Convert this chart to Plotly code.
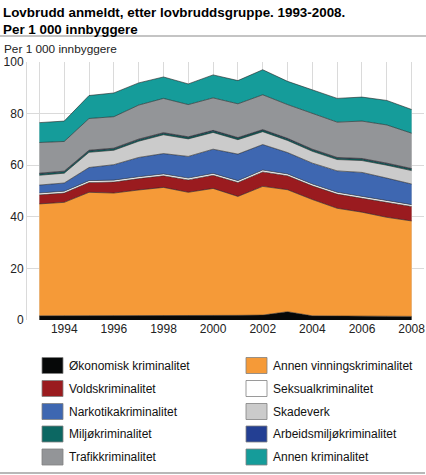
import plotly.graph_objects as go

years = list(range(1993, 2009))

okonomisk = [1.6, 1.6, 1.7, 1.6, 1.6, 1.6, 1.6, 1.8, 1.8, 1.9, 3.2, 1.6, 1.6, 1.4, 1.4, 1.4]
annen_vinning = [43.4, 44.0, 47.8, 47.6, 48.8, 49.8, 47.9, 49.2, 46.1, 49.9, 47.3, 45.1, 41.7, 40.4, 38.4, 37.0]
vold = [3.5, 3.6, 3.8, 4.3, 4.4, 4.5, 4.8, 5.1, 5.4, 5.6, 5.4, 5.3, 5.5, 5.4, 5.8, 5.6]
seksual = [0.7, 0.7, 0.7, 0.7, 0.7, 0.7, 0.7, 0.7, 0.7, 0.7, 0.7, 0.7, 0.7, 0.7, 0.7, 0.7]
narkotika = [3.1, 3.2, 5.1, 6.0, 7.5, 7.9, 8.4, 9.4, 10.3, 9.9, 8.3, 8.1, 8.3, 9.3, 8.7, 8.0]
skadeverk = [3.8, 3.8, 5.9, 5.6, 6.3, 7.3, 6.8, 6.5, 5.6, 5.0, 4.7, 4.6, 4.4, 4.6, 5.0, 5.2]
miljo = [0.6, 0.6, 0.6, 0.6, 0.6, 0.6, 0.6, 0.6, 0.6, 0.6, 0.6, 0.6, 0.6, 0.6, 0.6, 0.6]
arbeidsmiljo = [0.2, 0.2, 0.2, 0.2, 0.2, 0.2, 0.2, 0.2, 0.2, 0.2, 0.2, 0.2, 0.2, 0.2, 0.2, 0.2]
trafikk = [11.9, 11.5, 12.3, 12.2, 13.2, 13.3, 12.5, 12.6, 13.1, 13.5, 13.1, 13.9, 13.7, 14.5, 14.8, 13.7]
annen = [7.7, 7.9, 8.9, 9.2, 8.6, 8.3, 8.0, 8.9, 9.0, 9.7, 9.0, 9.0, 9.2, 9.3, 9.5, 9.2]

series = [
    ("Økonomisk kriminalitet", okonomisk, "#060808"),
    ("Annen vinningskriminalitet", annen_vinning, "#f59a38"),
    ("Voldskriminalitet", vold, "#9a1b1f"),
    ("Seksualkriminalitet", seksual, "#ffffff"),
    ("Narkotikakriminalitet", narkotika, "#3e67b1"),
    ("Skadeverk", skadeverk, "#cbcbcb"),
    ("Miljøkriminalitet", miljo, "#0c6762"),
    ("Arbeidsmiljøkriminalitet", arbeidsmiljo, "#233f93"),
    ("Trafikkriminalitet", trafikk, "#939598"),
    ("Annen kriminalitet", annen, "#159c9a"),
]

x_tick_vals = years
x_tick_text = [str(y) if y % 2 == 0 else "" for y in years]
y_tick_vals = [0, 20, 40, 60, 80, 100]

FONT = "Liberation Sans, Arial, sans-serif"

fig = go.Figure()
for name, vals, col in series:
    fig.add_trace(go.Scatter(
        x=years, y=vals, name=name, mode="lines",
        stackgroup="one", line=dict(color="#222222", width=0.6),
        fillcolor=col, showlegend=False, hoverinfo="skip",
    ))

W, H = 426, 475
L, R, T, B = 27, 2, 62, 155
PW = W - L - R
PH = H - T - B


def px(xp):
    return (xp - L) / PW


def py(yp):
    return (H - B - yp) / PH


shapes = []
annotations = []

# title separator & bottom line
shapes.append(dict(type="line", xref="paper", yref="paper", x0=px(0), x1=px(426), y0=py(36), y1=py(36),
                   line=dict(color="#b0b0b0", width=1.5)))
shapes.append(dict(type="line", xref="paper", yref="paper", x0=px(0), x1=px(425), y0=py(473), y1=py(473),
                   line=dict(color="#a0a0a0", width=1.5)))

annotations.append(dict(text="<b>Lovbrudd anmeldt, etter lovbruddsgruppe. 1993-2008.</b><br><b>Per 1 000 innbyggere</b>",
                        xref="paper", yref="paper", x=px(1), y=py(3), xanchor="left", yanchor="top",
                        align="left", showarrow=False, font=dict(family=FONT, size=13.4, color="#000000")))
annotations.append(dict(text="Per 1 000 innbyggere", xref="paper", yref="paper", x=px(2), y=py(49),
                        xanchor="left", yanchor="middle", showarrow=False,
                        font=dict(family=FONT, size=11.8, color="#222222")))

# legend (two columns, row-major)
row_y = [365.5, 388.5, 411.5, 434, 457]
col_x = [42, 246]
for i, (name, vals, col) in enumerate(series):
    r, c = divmod(i, 2)
    x0 = col_x[c]
    yc = row_y[r]
    shapes.append(dict(type="rect", xref="paper", yref="paper",
                       x0=px(x0), x1=px(x0 + 21), y0=py(yc - 8), y1=py(yc + 8),
                       fillcolor=col, line=dict(color="#808080", width=0.8)))
    annotations.append(dict(text=name, xref="paper", yref="paper", x=px(x0 + 25), y=py(yc),
                            xanchor="left", yanchor="middle", showarrow=False,
                            font=dict(family=FONT, size=12, color="#111111")))

fig.update_layout(
    width=W, height=H,
    margin=dict(l=L, r=R, t=T, b=B, pad=0),
    paper_bgcolor="white", plot_bgcolor="white",
    font=dict(family=FONT, size=12, color="#222222"),
    showlegend=False,
    shapes=shapes, annotations=annotations,
    xaxis=dict(range=[1992.5, 2008.5], tickvals=x_tick_vals, ticktext=x_tick_text,
               showgrid=True, gridcolor="#dadada", gridwidth=1, zeroline=False,
               showline=False, ticks="", automargin=False, ticklabeloverflow="allow",
               tickfont=dict(size=12, color="#222222")),
    yaxis=dict(range=[0, 100], tickvals=y_tick_vals, showgrid=True, gridcolor="#dadada",
               gridwidth=1, zeroline=False, showline=True, linecolor="#dadada", linewidth=1,
               ticks="", automargin=False, tickfont=dict(size=12, color="#222222")),
)

fig.write_html("out.html", config={"displayModeBar": False},
               post_script="document.body.style.margin='0px';")
